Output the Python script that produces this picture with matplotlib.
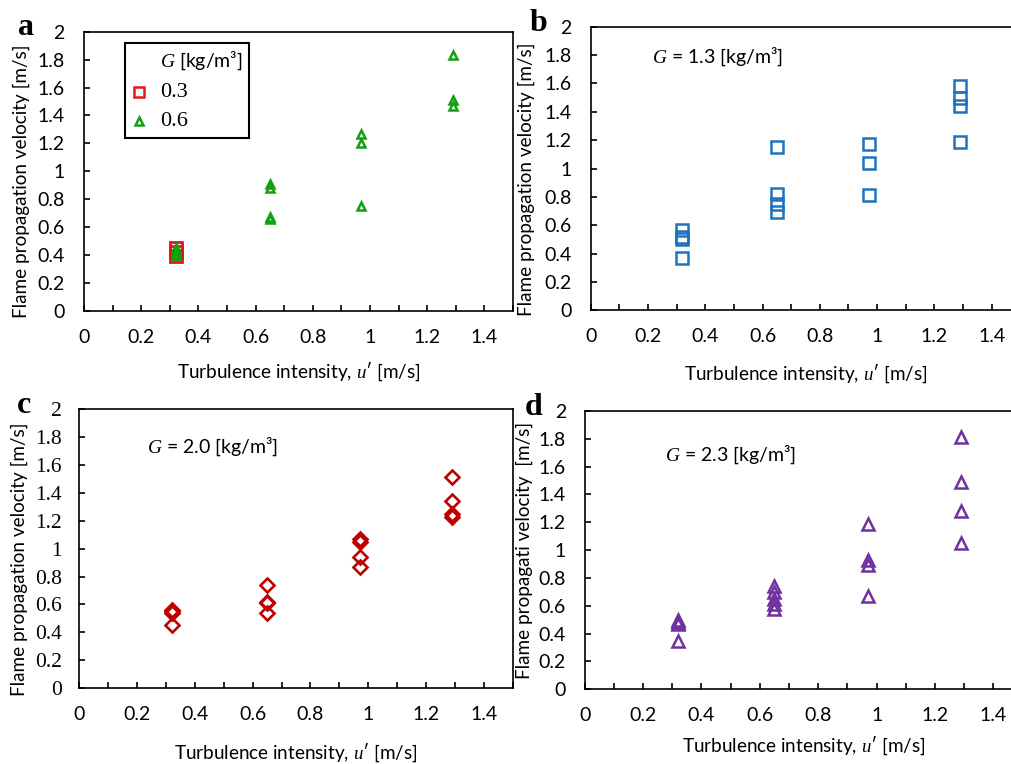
import matplotlib
matplotlib.use('Agg')
import matplotlib.pyplot as plt
from matplotlib.lines import Line2D
from matplotlib.ticker import MultipleLocator, FuncFormatter

plt.rcParams.update({
    'font.family': ['Lato', 'DejaVu Sans'],
    'mathtext.fontset': 'custom',
    'mathtext.it': 'Liberation Serif:italic',
    'mathtext.rm': 'Liberation Serif',
    'axes.linewidth': 1.2,
})
SERIF = 'Liberation Serif'

# ─── Data ────────────────────────────────────────────────────────────────────
# (a) G = 0.3 and 0.6 kg/m3
a_u_03 = [0.32, 0.32, 0.32]
a_v_03 = [0.45, 0.42, 0.39]
a_u_06 = [0.32, 0.32, 0.32, 0.32, 0.65, 0.65, 0.65, 0.65, 0.97, 0.97, 0.97, 1.29, 1.29, 1.29]
a_v_06 = [0.45, 0.43, 0.41, 0.39, 0.91, 0.88, 0.67, 0.66, 1.27, 1.20, 0.75, 1.83, 1.51, 1.47]

# (b) G = 1.3
b_u = [0.32, 0.32, 0.32, 0.32, 0.65, 0.65, 0.65, 0.65, 0.97, 0.97, 0.97, 1.29, 1.29, 1.29, 1.29]
b_v = [0.57, 0.52, 0.50, 0.37, 1.15, 0.82, 0.75, 0.69, 1.17, 1.04, 0.81, 1.58, 1.50, 1.44, 1.19]

# (c) G = 2.0
c_u = [0.32, 0.32, 0.32, 0.32, 0.65, 0.65, 0.65, 0.65, 0.97, 0.97, 0.97, 0.97, 1.29, 1.29, 1.29, 1.29]
c_v = [0.56, 0.55, 0.54, 0.45, 0.74, 0.62, 0.61, 0.54, 1.07, 1.05, 0.94, 0.87, 1.51, 1.34, 1.25, 1.23]

# (d) G = 2.3
d_u = [0.32, 0.32, 0.32, 0.32, 0.65, 0.65, 0.65, 0.65, 0.65, 0.97, 0.97, 0.97, 0.97, 1.29, 1.29, 1.29, 1.29]
d_v = [0.50, 0.48, 0.47, 0.35, 0.74, 0.70, 0.65, 0.61, 0.58, 1.19, 0.93, 0.89, 0.67, 1.81, 1.49, 1.28, 1.05]

XLABEL = r"Turbulence intensity, $\mathit{u}$′ [m/s]"
YLABEL = 'Flame propagation velocity [m/s]'
YLABEL_D = 'Flame propagati velocity  [m/s]'

RED_SQ = '#e81515'
GREEN = '#12a012'
BLUE = '#1e73be'
RED_D = '#c00000'
PURPLE = '#7030a0'

LBL = 13.6   # axis label size
TCK = 14     # tick label size

fig = plt.figure(figsize=(10.11, 7.64), dpi=100)
ax_a = fig.add_axes([0.0831, 0.5933, 0.4243, 0.3652])
ax_b = fig.add_axes([0.5843, 0.5938, 0.4249, 0.3712])
ax_c = fig.add_axes([0.0784, 0.0991, 0.4288, 0.3656])
ax_d = fig.add_axes([0.5783, 0.0978, 0.4332, 0.3643])


def style(ax, ypad, yfam='Lato', ysize=TCK, xpad=13):
    ax.set_xlim(0, 1.5)
    ax.set_ylim(0, 2)
    ax.xaxis.set_major_locator(MultipleLocator(0.2))
    ax.xaxis.set_minor_locator(MultipleLocator(0.1))
    ax.yaxis.set_major_locator(MultipleLocator(0.2))
    fmt = FuncFormatter(lambda v, p: f'{round(v, 1):g}')
    ax.xaxis.set_major_formatter(fmt)
    ax.yaxis.set_major_formatter(fmt)
    ax.tick_params(axis='x', which='both', direction='in', length=4, width=1.2,
                   pad=xpad, labelsize=TCK, top=False)
    ax.tick_params(axis='y', direction='in', length=4, width=1.2, pad=ypad,
                   labelsize=ysize, labelfontfamily=yfam, right=False)
    for s in ax.spines.values():
        s.set_color('black')


mk = dict(ls='none', mfc='none')

# (a)
ax_a.plot(a_u_03, a_v_03, marker='s', mec=RED_SQ, ms=8, mew=2.0, **mk)
ax_a.plot(a_u_06, a_v_06, marker='^', mec=GREEN, ms=6, mew=1.8, **mk)
style(ax_a, ypad=14)
ax_a.set_ylabel(YLABEL, fontsize=LBL)
ax_a.yaxis.set_label_coords(-0.126, 0.465)
ax_a.set_xlabel(XLABEL, fontsize=LBL)
ax_a.xaxis.set_label_coords(0.5, -0.18)
handles = [Line2D([], [], ls='none'),
           Line2D([], [], marker='s', mec=RED_SQ, ms=7, mew=1.8, **mk),
           Line2D([], [], marker='^', mec=GREEN, ms=6, mew=1.8, **mk)]
labels = [r'$\mathit{G}$ [kg/m³]', '0.3', '0.6']
leg = ax_a.legend(handles, labels, loc='upper left', bbox_to_anchor=(0.0956, 0.9595),
                  frameon=True, fancybox=False, edgecolor='black', framealpha=1,
                  borderaxespad=0, handlelength=1.0, handletextpad=1.0,
                  labelspacing=0.75, borderpad=0.5)
leg.get_frame().set_linewidth(1.5)
txt = leg.get_texts()
txt[0].set_fontsize(14)
for t in txt[1:]:
    t.set_fontfamily(SERIF)
    t.set_fontsize(16)

# (b)
ax_b.plot(b_u, b_v, marker='s', mec=BLUE, ms=8, mew=1.8, **mk)
style(ax_b, ypad=14)
ax_b.set_ylabel(YLABEL, fontsize=LBL)
ax_b.yaxis.set_label_coords(-0.13, 0.462)
ax_b.set_xlabel(XLABEL, fontsize=LBL)
ax_b.xaxis.set_label_coords(0.5, -0.183)
ax_b.text(0.143, 0.893, r'$\mathit{G}$ = 1.3 [kg/m³]', transform=ax_b.transAxes,
          ha='left', va='center', fontsize=14)

# (c)
ax_c.plot(c_u, c_v, marker='D', mec=RED_D, ms=6.8, mew=1.9, **mk)
style(ax_c, ypad=12.5, yfam=SERIF, ysize=15.5)
ax_c.set_ylabel(YLABEL, fontsize=LBL)
ax_c.yaxis.set_label_coords(-0.118, 0.462)
ax_c.set_xlabel(XLABEL, fontsize=LBL)
ax_c.xaxis.set_label_coords(0.5, -0.19)
ax_c.text(0.156, 0.864, r'$\mathit{G}$ = 2.0 [kg/m³]', transform=ax_c.transAxes,
          ha='left', va='center', fontsize=14)

# (d)
ax_d.plot(d_u, d_v, marker='^', mec=PURPLE, ms=8.5, mew=1.8, **mk)
style(ax_d, ypad=13.5)
ax_d.set_ylabel(YLABEL_D, fontsize=LBL)
ax_d.yaxis.set_label_coords(-0.118, 0.5)
ax_d.set_xlabel(XLABEL, fontsize=LBL)
ax_d.xaxis.set_label_coords(0.5, -0.162)
ax_d.text(0.183, 0.842, r'$\mathit{G}$ = 2.3 [kg/m³]', transform=ax_d.transAxes,
          ha='left', va='center', fontsize=14)

# panel letters
for letter, px, py in [('a', 18, 35), ('b', 530, 31), ('c', 17, 413), ('d', 525, 415)]:
    fig.text(px / 1011, 1 - py / 764, letter, fontfamily=SERIF, fontweight='bold',
             fontsize=23, ha='left', va='baseline')

fig.savefig('out.png', dpi=100)
